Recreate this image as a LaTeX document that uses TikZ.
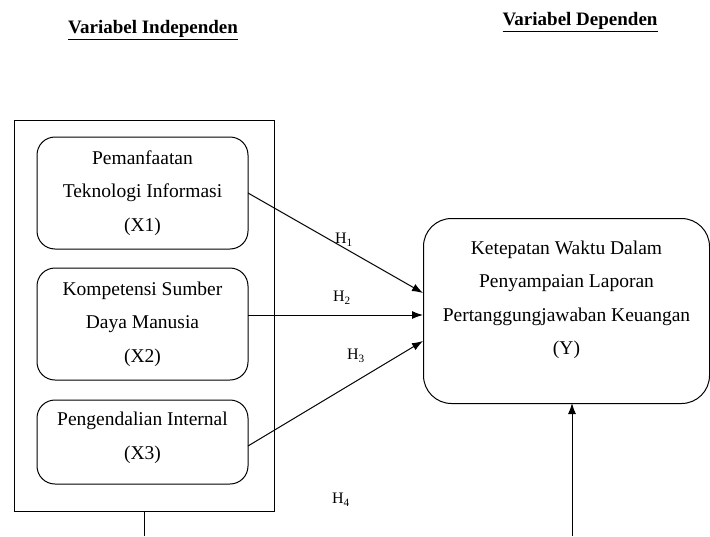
\documentclass[tikz,border=0pt]{standalone}
\usepackage{fontspec}
\setmainfont{Liberation Serif}
\usetikzlibrary{arrows.meta}
\tikzset{
  box/.style={draw, line width=1pt, rounded corners=18pt, inner sep=0pt},
  txt/.style={align=center, font=\fontsize{19.5}{33.5}\selectfont, inner sep=0pt},
  hyp/.style={font=\fontsize{16}{16}\selectfont, inner sep=0pt},
  head/.style={font=\fontsize{19}{19}\selectfont\bfseries, inner sep=0pt},
  conn/.style={line width=1pt, -{Latex[length=11pt,width=8pt]}},
  plain/.style={line width=1pt}
}
\begin{document}
\begin{tikzpicture}[x=1pt,y=-1pt]
\useasboundingbox (0,0) rectangle (710,536);
\fill[white] (0,0) rectangle (710,536);
% headers
\node[head] (hi) at (153,30) {\underline{Variabel Independen}};
\node[head] (hd) at (580,22) {\underline{Variabel Dependen}};
% outer frame
\draw[plain] (14,120) rectangle (274,511);
\coordinate (outb) at (144,511);
\coordinate (outend) at (144,536);
% independent boxes
\node[box, minimum width=211pt, minimum height=112pt] (x1) at (142.5,193) {};
\node[txt] (t1) at (142.5,193) {Pemanfaatan\\Teknologi Informasi\\(X1)};
\node[box, minimum width=211pt, minimum height=112pt] (x2) at (142.5,324) {};
\node[txt] (t2) at (142.5,324) {Kompetensi Sumber\\Daya Manusia\\(X2)};
\node[box, minimum width=211pt, minimum height=84pt] (x3) at (142.5,442) {};
\node[txt] (t3) at (142.5,438) {Pengendalian Internal\\(X3)};
% dependent box
\node[box, rounded corners=28pt, minimum width=286pt, minimum height=185pt] (y) at (566.5,311) {};
\node[txt] (ty) at (566.5,300) {Ketepatan Waktu Dalam\\Penyampaian Laporan\\Pertanggungjawaban Keuangan\\(Y)};
% connectors
\coordinate (a1) at (248,193);
\coordinate (e1) at (423,293);
\coordinate (a2) at (248,315);
\coordinate (e2) at (423,315);
\coordinate (a3) at (248,446);
\coordinate (e3) at (423,341);
\draw[conn] (a1) -- (e1);
\draw[conn] (a2) -- (e2);
\draw[conn] (a3) -- (e3);
\coordinate (ys) at (572,536);
\coordinate (yb) at (572,403);
\draw[conn] (ys) -- (yb);
\draw[plain] (outb) -- (outend);
% hypothesis labels
\node[hyp] (h1) at (344,240) {H\textsubscript{1}};
\node[hyp] (h2) at (342,298) {H\textsubscript{2}};
\node[hyp] (h3) at (356,356) {H\textsubscript{3}};
\node[hyp] (h4) at (341,500) {H\textsubscript{4}};
\end{tikzpicture}
\end{document}
